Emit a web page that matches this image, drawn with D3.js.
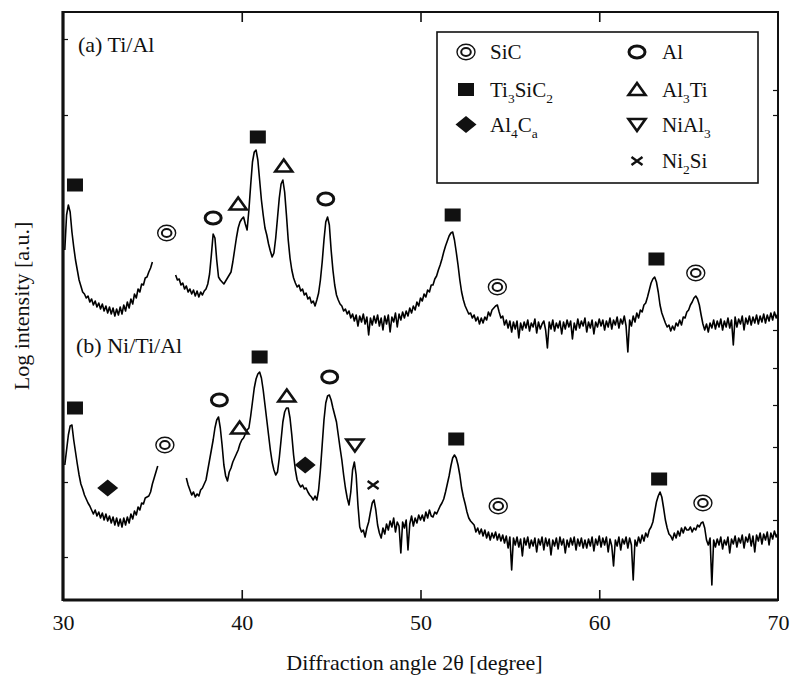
<!DOCTYPE html>
<html>
<head>
<meta charset="utf-8">
<script src="https://cdn.jsdelivr.net/npm/d3@7"></script>
<style>
  html, body { margin: 0; padding: 0; background: #fff; }
  svg { display: block; }
  text { font-family: "Liberation Serif", "Times New Roman", serif; fill: #111; }
</style>
</head>
<body>
<div id="chart"></div>
<script>
// XRD scans: 2θ grid starts at 30.0° with 0.1° steps; null = no recorded data.
// Each row holds one degree (x.0 … x.9). Intensity in arbitrary log units.
const scanStart = 30.0;
const scanStep = 0.1;

const tiAl = [
  null, 350, 385, 395, 388, 368, 353, 340, 330, 320,   // 30
  314, 308, 306, 302, 304, 298, 301, 295, 299, 293,    // 31
  297, 291, 296, 289, 294, 287, 293, 286, 292, 284,    // 32
  291, 285, 293, 286, 295, 289, 298, 292, 301, 296,    // 33
  306, 302, 311, 308, 316, 315, 322, 323, 328, 332,    // 34
  338, null, null, null, null, null, null, null, null, null, // 35
  null, null, null, 325, 320, 321, 315, 317, 311, 314, // 36
  308, 311, 306, 310, 304, 309, 303, 308, 305, 309,    // 37
  311, 316, 326, 345, 366, 362, 340, 323, 320, 318,    // 38
  316, 319, 322, 325, 328, 338, 350, 362, 372, 378,    // 39
  381, 383, 376, 370, 390, 415, 438, 448, 450, 440,    // 40
  420, 400, 385, 372, 365, 356, 349, 343, 347, 362,    // 41
  382, 402, 416, 420, 408, 385, 360, 342, 330, 322,    // 42
  317, 313, 315, 309, 311, 305, 307, 301, 303, 297,    // 43
  299, 294, 300, 307, 320, 338, 360, 378, 383, 375,    // 44
  350, 330, 315, 305, 300, 296, 294, 289, 291, 286,    // 45
  289, 282, 286, 279, 285, 274, 284, 278, 286, 276,    // 46
  283, 265, 282, 275, 284, 277, 285, 274, 282, 270,    // 47
  284, 276, 285, 268, 283, 278, 287, 273, 286, 280,    // 48
  288, 282, 289, 284, 292, 287, 294, 290, 298, 294,    // 49
  302, 299, 306, 303, 310, 308, 315, 315, 321, 324,    // 50
  330, 335, 341, 348, 354, 359, 364, 367, 368, 360,    // 51
  348, 335, 320, 308, 300, 294, 290, 286, 287, 282,    // 52
  285, 279, 283, 276, 282, 277, 283, 280, 288, 284,    // 53
  290, 292, 294, 295, 288, 282, 284, 275, 280, 272,    // 54
  279, 268, 278, 271, 279, 262, 277, 270, 278, 272,    // 55
  280, 269, 277, 273, 281, 267, 278, 271, 276, 279,    // 56
  270, 252, 278, 271, 280, 269, 277, 272, 279, 266,    // 57
  278, 271, 280, 273, 279, 261, 277, 270, 281, 272,    // 58
  279, 274, 282, 268, 278, 272, 280, 266, 278, 273,    // 59
  281, 274, 280, 270, 279, 273, 282, 271, 280, 275,    // 60
  283, 272, 281, 276, 284, 274, 248, 280, 274, 284,    // 61
  278, 287, 282, 290, 288, 295, 297, 303, 310, 317,    // 62
  321, 323, 318, 308, 295, 287, 282, 277, 273, 275,    // 63
  269, 274, 270, 277, 274, 280, 275, 283, 282, 288,    // 64
  290, 295, 298, 302, 304, 301, 295, 285, 276, 270,    // 65
  276, 268, 277, 272, 280, 271, 279, 273, 281, 270,    // 66
  279, 273, 282, 272, 280, 255, 283, 273, 281, 276,    // 67
  284, 270, 282, 276, 284, 275, 283, 277, 285, 276,    // 68
  284, 278, 286, 277, 285, 279, 287, 280, 288, 282,    // 69
  287                                                  // 70
];

const niTiAl = [
  null, 135, 150, 165, 174, 175, 160, 148, 136, 125,   // 30
  116, 111, 105, 101, 97, 94, 90, 86, 90, 84,          // 31
  88, 82, 87, 80, 86, 79, 84, 77, 83, 75,              // 32
  82, 74, 81, 73, 82, 75, 83, 77, 86, 81,              // 33
  89, 85, 93, 90, 97, 96, 102, 103, 104, 108,          // 34
  116, 122, 128, 134, null, null, null, null, null, null, // 35
  null, null, null, null, null, null, null, null, null, 122, // 36
  115, 110, 105, 108, 103, 106, 104, 110, 112, 116,    // 37
  120, 130, 140, 150, 160, 172, 180, 183, 172, 155,    // 38
  135, 124, 119, 128, 132, 138, 142, 146, 150, 156,    // 39
  160, 162, 166, 170, 172, 184, 198, 212, 221, 226,    // 40
  228, 222, 210, 195, 180, 165, 150, 138, 130, 125,    // 41
  128, 142, 160, 178, 188, 192, 192, 182, 165, 145,    // 42
  130, 120, 116, 113, 115, 111, 112, 108, 105, 103,    // 43
  100, 104, 100, 110, 130, 155, 180, 197, 204, 205,    // 44
  200, 192, 185, 178, 165, 152, 140, 125, 112, 102,    // 45
  95, 108, 130, 138, 125, 95, 73, 68, 70, 63,          // 46
  72, 78, 88, 97, 100, 90, 75, 67, 62, 72,             // 47
  66, 76, 70, 79, 73, 82, 68, 78, 74, 47,              // 48
  78, 72, 80, 50, 76, 84, 74, 82, 77, 85,              // 49
  80, 85, 79, 88, 82, 90, 84, 83, 88, 86,              // 50
  90, 94, 97, 101, 108, 116, 124, 134, 142, 145,       // 51
  142, 135, 125, 112, 103, 96, 88, 82, 79, 77,         // 52
  75, 68, 72, 66, 71, 64, 70, 62, 68, 60,              // 53
  67, 62, 68, 60, 66, 59, 65, 57, 64, 52,              // 54
  63, 30, 62, 55, 63, 53, 61, 44, 62, 55,              // 55
  63, 52, 60, 54, 62, 48, 61, 55, 63, 50,              // 56
  62, 54, 61, 45, 60, 54, 62, 51, 63, 55,              // 57
  61, 47, 60, 53, 62, 55, 63, 50, 61, 54,              // 58
  62, 52, 60, 52, 61, 54, 63, 49, 61, 55,              // 59
  64, 53, 62, 55, 63, 48, 61, 54, 34, 60,              // 60
  54, 63, 50, 61, 56, 63, 52, 62, 55, 20,              // 61
  60, 54, 63, 57, 65, 59, 67, 63, 70, 73,              // 62
  78, 88, 98, 104, 108, 103, 92, 80, 72, 66,           // 63
  64, 60, 67, 62, 69, 64, 72, 67, 73, 70,              // 64
  70, 73, 68, 72, 70, 75, 73, 77, 78, 72,              // 65
  60, 55, 62, 15, 60, 53, 61, 55, 63, 51,              // 66
  60, 55, 63, 47, 61, 56, 64, 53, 62, 57,              // 67
  65, 52, 63, 58, 66, 54, 64, 48, 65, 59,              // 68
  67, 56, 66, 60, 68, 55, 67, 61, 69, 63,              // 69
  67                                                   // 70
];

// Phase identification marks: [phase, 2θ, height]
const peaksTiAl = [
  ["Ti3SiC2", 30.67, 415], ["SiC", 35.8, 367], ["Al", 38.4, 382],
  ["Al3Ti", 39.8, 396], ["Ti3SiC2", 40.9, 463], ["Al3Ti", 42.35, 434],
  ["Al", 44.7, 401], ["Ti3SiC2", 51.8, 385], ["SiC", 54.3, 313],
  ["Ti3SiC2", 63.2, 341], ["SiC", 65.4, 327]
];
const peaksNiTiAl = [
  ["Ti3SiC2", 30.67, 192], ["Al4C3", 32.5, 112], ["SiC", 35.7, 155],
  ["Al", 38.75, 200], ["Al3Ti", 39.88, 172], ["Ti3SiC2", 41.0, 243],
  ["Al3Ti", 42.52, 204], ["Al4C3", 43.55, 135], ["Al", 44.92, 223],
  ["NiAl3", 46.33, 155], ["Ni2Si", 47.35, 115], ["Ti3SiC2", 52.0, 161],
  ["SiC", 54.35, 94], ["Ti3SiC2", 63.35, 121], ["SiC", 65.8, 97]
];

const xTicks = [30, 40, 50, 60, 70];
const innerXTicks = [40, 50, 60];
const leftMinorTicks = [561, 485, 118, 43];
const rightMinorTicks = [510, 485, 270, 232, 195, 153, 118, 80];

// Legend: phase key and label ("_" marks a one-character subscript)
const legendItems = [
  { phase: "SiC",     label: "SiC",      col: 0, row: 0 },
  { phase: "Ti3SiC2", label: "Ti_3SiC_2", col: 0, row: 1 },
  { phase: "Al4C3",   label: "Al_4C_a",  col: 0, row: 2 },
  { phase: "Al",      label: "Al",       col: 1, row: 0 },
  { phase: "Al3Ti",   label: "Al_3Ti",   col: 1, row: 1 },
  { phase: "NiAl3",   label: "NiAl_3",   col: 1, row: 2 },
  { phase: "Ni2Si",   label: "Ni_2Si",   col: 1, row: 3 }
];
const panelLabels = ["(a) Ti/Al", "(b) Ni/Ti/Al"];
const xTitle = "Diffraction angle 2\u03b8 [degree]";
const yTitle = "Log intensity [a.u.]";

// ---------------------------------------------------------------
const W = 792, H = 682;
const plot = { left: 63, right: 778, top: 12, bottom: 600 };
const ink = "#111";

const svg = d3.select("#chart").append("svg")
  .attr("width", W).attr("height", H)
  .attr("viewBox", `0 0 ${W} ${H}`);
svg.append("rect").attr("width", W).attr("height", H).attr("fill", "#fff");

const x = d3.scaleLinear().domain([30, 70]).range([plot.left, plot.right]);
const y = d3.scaleLinear().domain([0, 588]).range([plot.bottom, plot.top]);

function toPoints(arr) {
  return arr.map((h, i) => ({ angle: +(scanStart + i * scanStep).toFixed(1), h }));
}

svg.append("defs").append("clipPath").attr("id", "plotClip")
  .append("rect").attr("x", plot.left).attr("y", plot.top)
  .attr("width", plot.right - plot.left).attr("height", plot.bottom - plot.top);

const line = d3.line()
  .defined(d => d.h !== null)
  .x(d => x(d.angle))
  .y(d => y(d.h));

const traces = svg.append("g").attr("clip-path", "url(#plotClip)");
[tiAl, niTiAl].forEach(series => {
  traces.append("path")
    .datum(toPoints(series))
    .attr("d", line)
    .attr("fill", "none")
    .attr("stroke", "#000")
    .attr("stroke-width", 1.6)
    .attr("stroke-linejoin", "round");
});

// Phase symbols
function drawMarker(g, phase, cx, cy) {
  const m = g.append("g").attr("transform", `translate(${cx},${cy})`);
  switch (phase) {
    case "Ti3SiC2":
      m.append("rect").attr("x", -8).attr("y", -6.5).attr("width", 16).attr("height", 13).attr("fill", ink);
      break;
    case "SiC":
      m.append("ellipse").attr("rx", 9).attr("ry", 7.8).attr("fill", "none").attr("stroke", ink).attr("stroke-width", 1.4);
      m.append("ellipse").attr("rx", 4.8).attr("ry", 4).attr("fill", "none").attr("stroke", ink).attr("stroke-width", 2);
      break;
    case "Al":
      m.append("ellipse").attr("rx", 8).attr("ry", 6).attr("fill", "#fff").attr("stroke", ink).attr("stroke-width", 3);
      break;
    case "Al3Ti":
      m.append("path").attr("d", "M-8.5,5.5 L0,-6.5 L8.5,5.5 Z").attr("fill", "#fff").attr("stroke", ink).attr("stroke-width", 2.6).attr("stroke-linejoin", "miter");
      break;
    case "NiAl3":
      m.append("path").attr("d", "M-8.5,-5.5 L8.5,-5.5 L0,6.5 Z").attr("fill", "#fff").attr("stroke", ink).attr("stroke-width", 2.6);
      break;
    case "Al4C3":
      m.append("path").attr("d", "M-10.5,0 L0,-8.5 L10.5,0 L0,8.5 Z").attr("fill", ink);
      break;
    case "Ni2Si":
      m.append("path").attr("d", "M-5.5,-4 L5.5,4 M-5.5,4 L5.5,-4").attr("stroke", ink).attr("stroke-width", 2.4).attr("fill", "none");
      break;
  }
}

const marks = svg.append("g");
[peaksTiAl, peaksNiTiAl].forEach(list => {
  list.forEach(([phase, angle, h]) => drawMarker(marks, phase, x(angle), y(h)));
});

// Frame and ticks
const frame = svg.append("g");
frame.append("rect")
  .attr("x", plot.left).attr("y", plot.top)
  .attr("width", plot.right - plot.left).attr("height", plot.bottom - plot.top)
  .attr("fill", "none").attr("stroke", ink).attr("stroke-width", 2);
frame.append("line").attr("x1", plot.left).attr("x2", plot.left)
  .attr("y1", plot.top - 1).attr("y2", plot.bottom + 1)
  .attr("stroke", ink).attr("stroke-width", 3.2);
frame.append("line").attr("x1", plot.left).attr("x2", plot.right)
  .attr("y1", plot.bottom).attr("y2", plot.bottom)
  .attr("stroke", ink).attr("stroke-width", 2.8);

const xAxis = svg.append("g")
  .attr("transform", `translate(0,${plot.bottom})`)
  .call(d3.axisBottom(x).tickValues(xTicks).tickSize(-10).tickPadding(14).tickFormat(d3.format("d")));
xAxis.select(".domain").remove();
xAxis.selectAll(".tick line").attr("stroke", ink).attr("stroke-width", 1.6)
  .filter(d => !innerXTicks.includes(d)).remove();
xAxis.selectAll(".tick text")
  .attr("font-family", "Liberation Serif, Times New Roman, serif")
  .attr("font-size", 22).attr("fill", ink);

const xTop = svg.append("g")
  .attr("transform", `translate(0,${plot.top})`)
  .call(d3.axisTop(x).tickValues(innerXTicks).tickSize(-10).tickFormat(""));
xTop.select(".domain").remove();
xTop.selectAll(".tick line").attr("stroke", ink).attr("stroke-width", 1.6);

const yLeft = svg.append("g")
  .attr("transform", `translate(${plot.left},0)`)
  .call(d3.axisLeft(y).tickValues(leftMinorTicks).tickSize(-5).tickFormat(""));
yLeft.select(".domain").remove();
yLeft.selectAll(".tick line").attr("stroke", ink).attr("stroke-width", 1.2);

const yRight = svg.append("g")
  .attr("transform", `translate(${plot.right},0)`)
  .call(d3.axisRight(y).tickValues(rightMinorTicks).tickSize(-5).tickFormat(""));
yRight.select(".domain").remove();
yRight.selectAll(".tick line").attr("stroke", ink).attr("stroke-width", 1.2);

// Text with one-character subscripts marked by "_"
function richText(sel, str, size) {
  const parts = str.split(/(_.)/).filter(s => s.length);
  let shifted = false;
  parts.forEach(p => {
    if (p.startsWith("_")) {
      sel.append("tspan").attr("dy", shifted ? 0 : 6).attr("font-size", size * 0.64).text(p.slice(1));
      shifted = true;
    } else {
      sel.append("tspan").attr("dy", shifted ? -6 : 0).attr("font-size", size).text(p);
      shifted = false;
    }
  });
}

// Legend
const legend = svg.append("g");
legend.append("rect")
  .attr("x", 437).attr("y", 32).attr("width", 321).attr("height", 151)
  .attr("fill", "#fff").attr("stroke", ink).attr("stroke-width", 1.6);
const legCols = [{ sx: 466, tx: 490 }, { sx: 637, tx: 662 }];
const legRows = [52, 89.5, 124.5, 161];
legendItems.forEach(item => {
  const c = legCols[item.col];
  const cy = legRows[item.row];
  drawMarker(legend, item.phase, c.sx, cy);
  const t = legend.append("text").attr("x", c.tx).attr("y", cy + 7);
  richText(t, item.label, 21);
});

// Panel labels
svg.append("text").attr("x", 78).attr("y", 52).attr("font-size", 22).text(panelLabels[0]);
svg.append("text").attr("x", 76).attr("y", 353).attr("font-size", 22).text(panelLabels[1]);

// Axis titles
svg.append("text")
  .attr("x", (plot.left + plot.right) / 2 - 6).attr("y", 670)
  .attr("text-anchor", "middle").attr("font-size", 22).text(xTitle);
svg.append("text")
  .attr("transform", `translate(29,${(plot.top + plot.bottom) / 2}) rotate(-90)`)
  .attr("text-anchor", "middle").attr("font-size", 22).text(yTitle);
</script>
</body>
</html>
